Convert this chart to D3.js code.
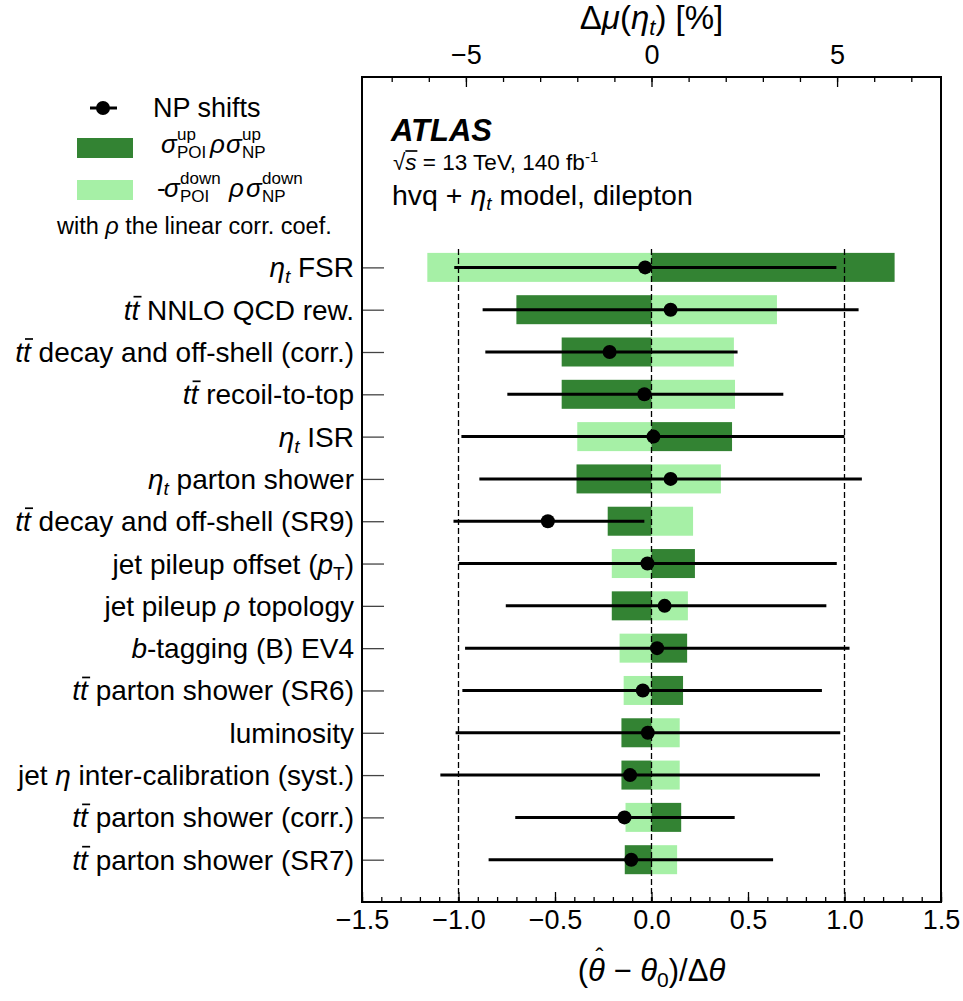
<!DOCTYPE html>
<html>
<head>
<meta charset="utf-8">
<script src="https://cdn.jsdelivr.net/npm/d3@7"></script>
<style>
body { margin: 0; background: #fff; }
text { font-family: "Liberation Sans", Arial, Helvetica, sans-serif; fill: #000; }
</style>
</head>
<body>
<script>
// nuisance parameter labels, top to bottom ([text, style])
var labels = [
	[["η", "i"], ["t", "isub"], [" FSR", "up"]],
	[["t", "i"], ["t", "ibar"], [" NNLO QCD rew.", ""]],
	[["t", "i"], ["t", "ibar"], [" decay and off-shell (corr.)", ""]],
	[["t", "i"], ["t", "ibar"], [" recoil-to-top", ""]],
	[["η", "i"], ["t", "isub"], [" ISR", "up"]],
	[["η", "i"], ["t", "isub"], [" parton shower", "up"]],
	[["t", "i"], ["t", "ibar"], [" decay and off-shell (SR9)", ""]],
	[["jet pileup offset (", ""], ["p", "i"], ["T", "sub"], [")", "up"]],
	[["jet pileup ", ""], ["ρ", "i"], [" topology", ""]],
	[["b", "i"], ["-tagging (B) EV4", ""]],
	[["t", "i"], ["t", "ibar"], [" parton shower (SR6)", ""]],
	[["luminosity", ""]],
	[["jet ", ""], ["η", "i"], [" inter-calibration (syst.)", ""]],
	[["t", "i"], ["t", "ibar"], [" parton shower (corr.)", ""]],
	[["t", "i"], ["t", "ibar"], [" parton shower (SR7)", ""]]
];

// impact on POI in % (top axis): up variation (dark) and down variation (light)
var impactUp = [6.55, -3.64, -2.42, -2.42, 2.17, -2.02, -1.18, 1.17, -1.07, 0.96, 0.85, -0.81, -0.81, 0.80, -0.72];
var impactDown = [-6.04, 3.38, 2.22, 2.25, -2.00, 1.87, 1.12, -1.07, 0.98, -0.86, -0.75, 0.76, 0.76, -0.70, 0.69];

// pulls (bottom axis) with lower / upper ends of the error bar
var pull = [-0.033, 0.099, -0.217, -0.037, 0.010, 0.099, -0.537, -0.021, 0.068, 0.029, -0.045, -0.019, -0.111, -0.140, -0.105];
var pullLo = [-1.022, -0.875, -0.861, -0.747, -0.985, -0.892, -1.026, -0.999, -0.755, -0.966, -0.980, -1.015, -1.094, -0.706, -0.844];
var pullHi = [0.958, 1.073, 0.446, 0.683, 1.0, 1.090, -0.037, 0.960, 0.906, 1.026, 0.883, 0.978, 0.873, 0.431, 0.630];

var bottomTicks = [-1.5, -1.0, -0.5, 0, 0.5, 1.0, 1.5];
var topTicks = [-5, 0, 5];
var refLines = [-1, 0, 1];

window.onload = drawChart();

function drawChart(){

	var darkGreen = "#338333", lightGreen = "#a6f0a6";

	var width = 963, height = 1001;
	var pLeft = 362, pRight = 941, pTop = 77, pBottom = 902;

	var svg = d3.select("body").append("svg")
		.attr("width", width)
		.attr("height", height);

	var x = d3.scaleLinear().domain([-1.5, 1.5]).range([pLeft, pRight]);
	var xTop = d3.scaleLinear().domain([-7.8, 7.8]).range([pLeft, pRight]);
	var y = d3.scaleLinear().domain([-4.5, 15]).range([pTop, pBottom]);
	var barH = 29;

	//overline helper: line over one character of a text element
	function overline(textNode, idx, dx, dy, w){
		var e = textNode.getExtentOfChar(idx);
		svg.append("line")
			.attr("x1", e.x + dx).attr("x2", e.x + dx + w)
			.attr("y1", e.y + dy).attr("y2", e.y + dy)
			.attr("stroke", "#000").attr("stroke-width", 1.7);
	}

	//bars
	var rows = svg.append("g").selectAll("g")
		.data(d3.range(labels.length))
		.enter().append("g");

	rows.append("rect")
		.attr("x", function(i){ return xTop(Math.min(0, impactDown[i])); })
		.attr("width", function(i){ return Math.abs(xTop(impactDown[i]) - xTop(0)); })
		.attr("y", function(i){ return y(i) - barH / 2; })
		.attr("height", barH)
		.attr("fill", lightGreen);

	rows.append("rect")
		.attr("x", function(i){ return xTop(Math.min(0, impactUp[i])); })
		.attr("width", function(i){ return Math.abs(xTop(impactUp[i]) - xTop(0)); })
		.attr("y", function(i){ return y(i) - barH / 2; })
		.attr("height", barH)
		.attr("fill", darkGreen);

	//dashed reference lines
	svg.append("g").selectAll("line")
		.data(refLines)
		.enter().append("line")
		.attr("x1", function(d){ return x(d); })
		.attr("x2", function(d){ return x(d); })
		.attr("y1", y(0) - barH / 2 - 4)
		.attr("y2", pBottom)
		.attr("stroke", "#000")
		.attr("stroke-width", 1.3)
		.attr("stroke-dasharray", "6,3");

	//error bars and pulls
	rows.append("line")
		.attr("x1", function(i){ return x(pullLo[i]); })
		.attr("x2", function(i){ return x(pullHi[i]); })
		.attr("y1", function(i){ return y(i); })
		.attr("y2", function(i){ return y(i); })
		.attr("stroke", "#000")
		.attr("stroke-width", 3);

	rows.append("circle")
		.attr("cx", function(i){ return x(pull[i]); })
		.attr("cy", function(i){ return y(i); })
		.attr("r", 7)
		.attr("fill", "#000");

	//axes, ticks pointing inward
	function clean(g){
		g.select(".domain").remove();
		g.selectAll("line").attr("stroke", "#000").attr("stroke-width", 1.3);
		g.attr("font-family", null).attr("font-size", 27);
	}

	svg.append("g").attr("transform", "translate(0," + pBottom + ")")
		.call(d3.axisBottom(x).ticks(30).tickSize(-5).tickFormat(""))
		.call(clean);
	svg.append("g").attr("transform", "translate(0," + pBottom + ")")
		.call(d3.axisBottom(x).tickValues(bottomTicks).tickSize(-10).tickPadding(8).tickFormat(d3.format(".1f")))
		.call(clean);

	svg.append("g").attr("transform", "translate(0," + pTop + ")")
		.call(d3.axisTop(xTop).tickValues(d3.range(-7, 8)).tickSize(-5).tickFormat(""))
		.call(clean);
	svg.append("g").attr("transform", "translate(0," + pTop + ")")
		.call(d3.axisTop(xTop).tickValues(topTicks).tickSize(-10).tickPadding(13).tickFormat(d3.format("d")))
		.call(clean);

	svg.append("g").attr("transform", "translate(" + pLeft + ",0)")
		.call(d3.axisLeft(y).tickValues(d3.range(labels.length)).tickSize(-22).tickFormat(""))
		.call(clean)
		.selectAll("line").attr("stroke", "#444");

	//frame
	svg.append("rect")
		.attr("x", pLeft).attr("y", pTop)
		.attr("width", pRight - pLeft).attr("height", pBottom - pTop)
		.attr("fill", "none").attr("stroke", "#000").attr("stroke-width", 2);

	//category labels
	rows.each(function(i){
		var t = d3.select(this).append("text")
			.attr("x", pLeft - 8)
			.attr("y", y(i) + 10)
			.attr("text-anchor", "end")
			.attr("font-size", 28);
		var barIdx = -1, n = 0;
		labels[i].forEach(function(p){
			var s = t.append("tspan").text(p[0]);
			if (p[1] == "i" || p[1] == "ibar") s.attr("font-style", "italic");
			if (p[1] == "isub") s.attr("font-style", "italic").attr("font-size", 19).attr("dy", 6);
			if (p[1] == "sub") s.attr("font-size", 19).attr("dy", 6);
			if (p[1] == "up") s.attr("dy", -6);
			if (p[1] == "ibar") barIdx = n;
			n += p[0].length;
		});
		if (barIdx >= 0) overline(t.node(), barIdx, 2, 2, 8);
	});

	//axis titles
	var tb = svg.append("text").attr("x", x(0)).attr("y", 981).attr("text-anchor", "middle").attr("font-size", 31);
	tb.append("tspan").text("(");
	tb.append("tspan").attr("font-style", "italic").text("θ");
	tb.append("tspan").text(" − ");
	tb.append("tspan").attr("font-style", "italic").text("θ");
	tb.append("tspan").attr("font-size", 21).attr("dy", 6).text("0");
	tb.append("tspan").attr("dy", -6).text(")/Δ");
	tb.append("tspan").attr("font-style", "italic").text("θ");
	var eh = tb.node().getExtentOfChar(1);
	svg.append("text").attr("x", eh.x + eh.width / 2 + 3).attr("y", eh.y + 12)
		.attr("text-anchor", "middle").attr("font-size", 24).text("ˆ");

	var tt = svg.append("text").attr("x", x(0)).attr("y", 29).attr("text-anchor", "middle").attr("font-size", 33);
	tt.append("tspan").text("Δ");
	tt.append("tspan").attr("font-style", "italic").text("μ");
	tt.append("tspan").text("(");
	tt.append("tspan").attr("font-style", "italic").text("η");
	tt.append("tspan").attr("font-style", "italic").attr("font-size", 22).attr("dy", 6).text("t");
	tt.append("tspan").attr("dy", -6).text(") [%]");

	//ATLAS label
	svg.append("text").attr("x", 391).attr("y", 141)
		.attr("font-size", 31).attr("font-weight", "bold").attr("font-style", "italic").text("ATLAS");
	var en = svg.append("text").attr("x", 393).attr("y", 170).attr("font-size", 22.5);
	en.append("tspan").text("√");
	en.append("tspan").attr("font-style", "italic").text("s");
	en.append("tspan").text(" = 13 TeV, 140 fb");
	en.append("tspan").attr("font-size", 15).attr("dy", -8).text("-1");
	overline(en.node(), 1, 0, 1, 12);
	var mo = svg.append("text").attr("x", 392).attr("y", 205).attr("font-size", 28.5);
	mo.append("tspan").text("hvq + ");
	mo.append("tspan").attr("font-style", "italic").text("η");
	mo.append("tspan").attr("font-style", "italic").attr("font-size", 19).attr("dy", 5).text("t");
	mo.append("tspan").attr("dy", -5).text(" model, dilepton");

	//legend
	var leg = svg.append("g");
	leg.append("line").attr("x1", 90).attr("x2", 117).attr("y1", 108).attr("y2", 108)
		.attr("stroke", "#000").attr("stroke-width", 3);
	leg.append("circle").attr("cx", 103).attr("cy", 108).attr("r", 7).attr("fill", "#000");
	leg.append("text").attr("x", 153).attr("y", 117).attr("font-size", 27).text("NP shifts");
	leg.append("rect").attr("x", 77).attr("y", 138).attr("width", 56).attr("height", 20).attr("fill", darkGreen);
	leg.append("rect").attr("x", 77).attr("y", 180).attr("width", 56).attr("height", 20).attr("fill", lightGreen);

	function sigmaTerm(xp, yb, sup, sub){
		leg.append("text").attr("x", xp).attr("y", yb).attr("font-size", 26).attr("font-style", "italic").text("σ");
		leg.append("text").attr("x", xp + 16).attr("y", yb - 13).attr("font-size", 17).text(sup);
		leg.append("text").attr("x", xp + 16).attr("y", yb + 5).attr("font-size", 17).text(sub);
	}
	sigmaTerm(161, 153, "up", "POI");
	leg.append("text").attr("x", 210).attr("y", 153).attr("font-size", 26).attr("font-style", "italic").text("ρ");
	sigmaTerm(226, 153, "up", "NP");
	leg.append("text").attr("x", 157).attr("y", 197).attr("font-size", 26).text("-");
	sigmaTerm(164, 197, "down", "POI");
	leg.append("text").attr("x", 229).attr("y", 197).attr("font-size", 26).attr("font-style", "italic").text("ρ");
	sigmaTerm(246, 197, "down", "NP");
	var wr = leg.append("text").attr("x", 57).attr("y", 234).attr("font-size", 23.5);
	wr.append("tspan").text("with ");
	wr.append("tspan").attr("font-style", "italic").text("ρ");
	wr.append("tspan").text(" the linear corr. coef.");
}
</script>
</body>
</html>
